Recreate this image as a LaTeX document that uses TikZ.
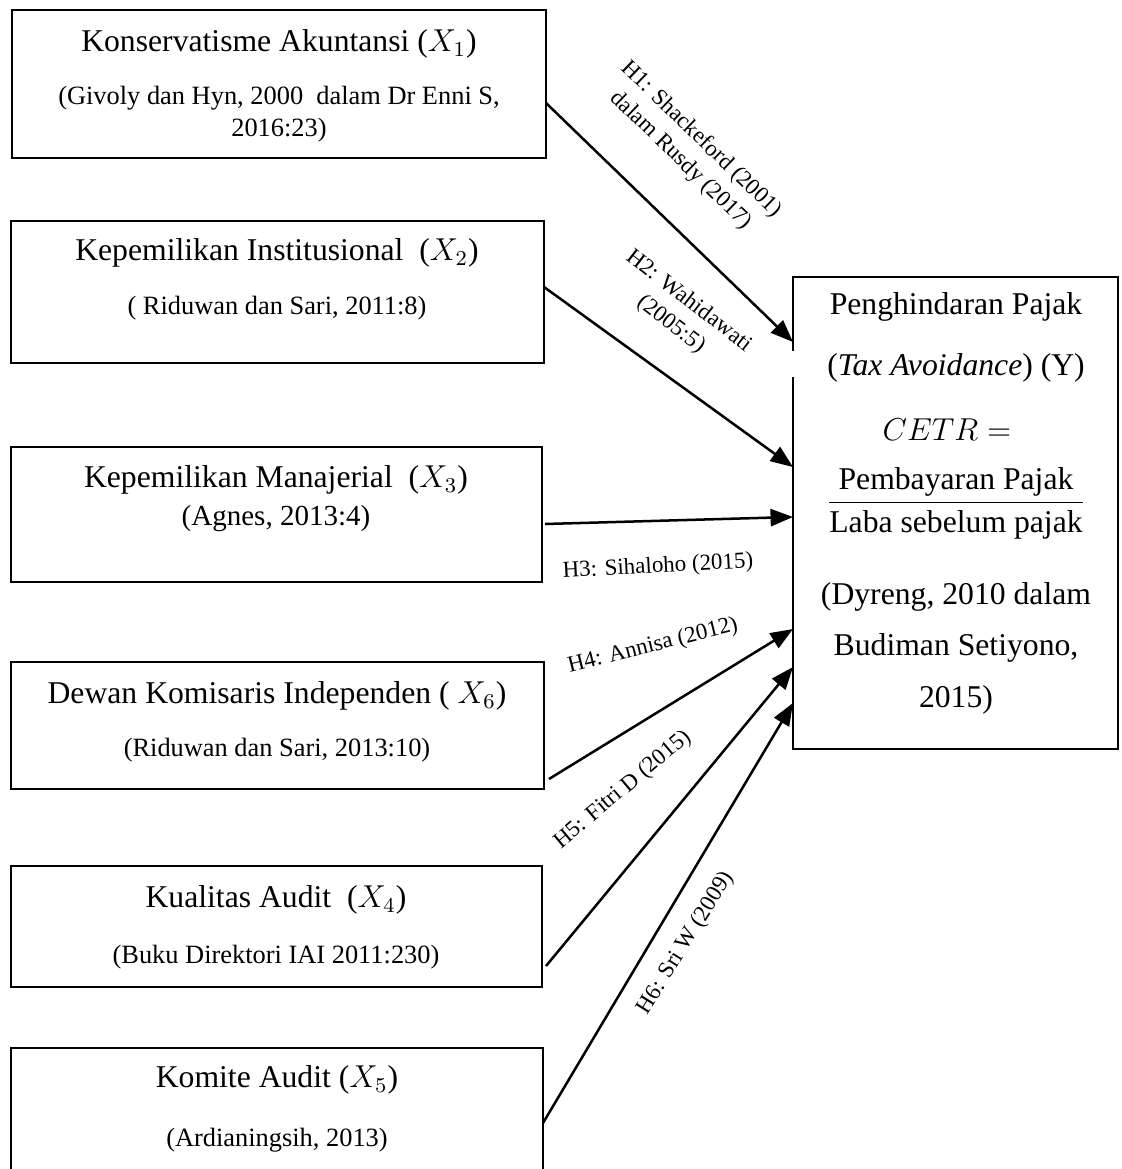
\documentclass[tikz,border=0pt]{standalone}
\usepackage{fontspec}
\setmainfont{Liberation Serif}
\usepackage{amsmath}
\usetikzlibrary{arrows.meta,calc}
\begin{document}
\begin{tikzpicture}[x=0.3788pt,y=-0.3788pt,
  box/.style={draw, line width=1.1pt, inner sep=0pt, outer sep=0pt, anchor=north west},
  ttl/.style={font=\fontsize{12}{14}\selectfont, inner sep=0pt},
  cit/.style={font=\fontsize{10}{12}\selectfont, inner sep=0pt, align=center},
  ytx/.style={font=\fontsize{12}{14}\selectfont, inner sep=0pt},
  lbl/.style={font=\fontsize{8.7}{11}\selectfont, inner sep=0pt, align=center},
  conn/.style={line width=0.95pt, -{Triangle[length=8.5pt,width=6.5pt]}}]
\useasboundingbox (0,0) rectangle (1121,1169);
\clip (0,0) rectangle (1121,1169);

% left boxes
\node[box, minimum width=534*0.3788pt, minimum height=148*0.3788pt] (b1) at (12,10) {};
\node[box, minimum width=533*0.3788pt, minimum height=142*0.3788pt] (b2) at (11,221) {};
\node[box, minimum width=531*0.3788pt, minimum height=135*0.3788pt] (b3) at (11,447) {};
\node[box, minimum width=533*0.3788pt, minimum height=127*0.3788pt] (b4) at (11,662) {};
\node[box, minimum width=531*0.3788pt, minimum height=121*0.3788pt] (b5) at (11,866) {};
\node[box, minimum width=532*0.3788pt, minimum height=140*0.3788pt] (b6) at (11,1048) {};

% right box
\node[box, minimum width=325*0.3788pt, minimum height=472*0.3788pt] (yb) at (793,277) {};
\coordinate (g1) at ($(yb.north west)+(0,74)$);
\coordinate (g2) at ($(yb.north west)+(0,100)$);
\draw[white, line width=2pt] (g1) -- (g2);

% texts in left boxes
\node[ttl] (b1t) at (279,44) {Konservatisme Akuntansi ($X_1$)};
\node[cit] (b1c) at (279,114) {(Givoly dan Hyn, 2000\ \ dalam Dr Enni S,\\2016:23)};
\node[ttl] (b2t) at (277,253) {Kepemilikan Institusional\ \ ($X_2$)};
\node[cit] (b2c) at (277,308) {( Riduwan dan Sari, 2011:8)};
\node[ttl] (b3t) at (276,480) {Kepemilikan Manajerial\ \ ($X_3$)};
\node[cit, font=\fontsize{11}{13}\selectfont] (b3c) at (276,519) {(Agnes, 2013:4)};
\node[ttl] (b4t) at (277,696) {Dewan Komisaris Independen ( $X_6$)};
\node[cit] (b4c) at (277,750) {(Riduwan dan Sari, 2013:10)};
\node[ttl] (b5t) at (276,900) {Kualitas Audit\ \ ($X_4$)};
\node[cit] (b5c) at (276,957) {(Buku Direktori IAI 2011:230)};
\node[ttl] (b6t) at (277,1080) {Komite Audit ($X_5$)};
\node[cit] (b6c) at (277,1140) {(Ardianingsih, 2013)};

% texts in right box
\node[ytx] (y1) at (956,307) {Penghindaran Pajak};
\node[ytx] (y2) at (956,368) {(\textit{Tax Avoidance}) (Y)};
\node[ytx] (y3) at (947,430) {$CETR =$};
\node[ytx] (y4) at (956,503) {$\dfrac{\text{Pembayaran Pajak}}{\text{Laba sebelum pajak}}$};
\node[ytx] (y5) at (956,597) {(Dyreng, 2010 dalam};
\node[ytx] (y6) at (956,648) {Budiman Setiyono,};
\node[ytx] (y7) at (956,700) {2015)};

% connector end points
\coordinate (s1) at ($(b1.north east)+(0,93)$);
\coordinate (s2) at ($(b2.north east)+(0,66)$);
\coordinate (s3) at ($(b3.north east)+(3,77)$);
\coordinate (s4) at ($(b4.north east)+(5,117)$);
\coordinate (s5) at ($(b5.north east)+(4,100)$);
\coordinate (s6) at ($(b6.north east)+(0,75)$);
\coordinate (t1) at ($(yb.north west)+(0,65)$);
\coordinate (t2) at ($(yb.north west)+(0,190)$);
\coordinate (t3) at ($(yb.north west)+(0,240)$);
\coordinate (t4) at ($(yb.north west)+(0,352)$);
\coordinate (t5) at ($(yb.north west)+(0,390)$);
\coordinate (t6) at ($(yb.north west)+(0,426)$);

\draw[conn] (s1) -- (t1);
\draw[conn] (s2) -- (t2);
\draw[conn] (s3) -- (t3);
\draw[conn] (s4) -- (t4);
\draw[conn] (s5) -- (t5);
\draw[conn] (s6) -- (t6);

% labels
\node[lbl, rotate=-44] (l1) at (691,150) {H1: Shackeford (2001)\\dalam Rusdy (2017)};
\node[lbl, rotate=-37.6] (l2) at (680,313) {H2: Wahidawati\\(2005:5)};
\node[lbl, rotate=3] (l3) at (658,567) {H3: Sihaloho (2015)};
\node[lbl, rotate=14] (l4) at (653,646) {H4: Annisa (2012)};
\node[lbl, rotate=40] (l5) at (623,790) {H5: Fitri D (2015)};
\node[lbl, rotate=58] (l6) at (686,943) {H6: Sri W (2009)};
\end{tikzpicture}
\end{document}
